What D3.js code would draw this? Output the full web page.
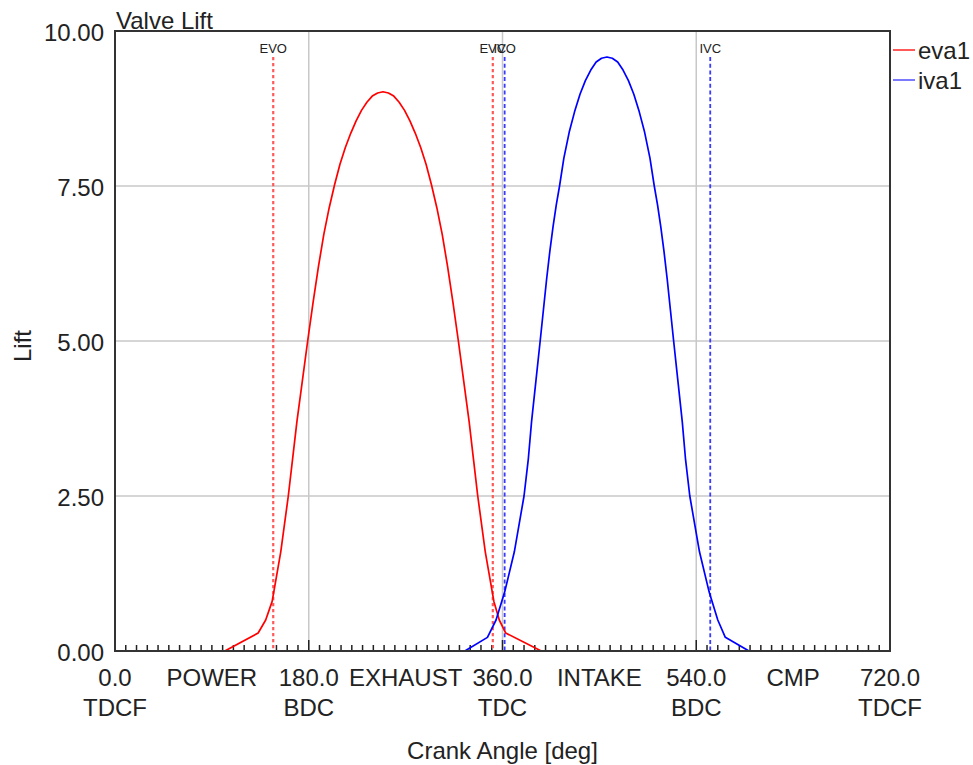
<!DOCTYPE html>
<html><head><meta charset="utf-8">
<script src="https://cdn.jsdelivr.net/npm/d3@7"></script>
<style>body{margin:0;background:#fff}text{font-family:"Liberation Sans",Arial,sans-serif;fill:#222}</style>
</head><body><svg id="c" width="973" height="765"></svg>
<script>
const title = "Valve Lift";
const xLabel = "Crank Angle [deg]";
const yLabel = "Lift";
const yTicks = [0, 2.5, 5, 7.5, 10];
const xMajor = [0, 180, 360, 540, 720];
const xMajorSub = ["TDCF", "BDC", "TDC", "BDC", "TDCF"];
const strokeNames = ["POWER", "EXHAUST", "INTAKE", "CMP"];
const strokeCenters = [90, 270, 450, 630];
const seriesNames = ["eva1", "iva1"];
const eva1 = [[0,0],[102,0],[133,0.29],[140,0.5],[146,0.8],[154,1.6],[161,2.5],[165,3.1],[169,3.7],[174,4.35],[179,5.0],[184,5.62],[189,6.2],[194,6.72],[199,7.15],[204,7.52],[209,7.85],[214,8.12],[219,8.35],[224,8.55],[229,8.72],[234,8.85],[239,8.95],[244,9.0],[249,9.02],[254,9.0],[259,8.95],[264,8.85],[269,8.72],[274,8.55],[279,8.35],[284,8.12],[289,7.85],[294,7.52],[299,7.15],[304,6.72],[309,6.2],[314,5.62],[319,5.0],[324,4.35],[329,3.7],[333,3.1],[337,2.5],[344,1.6],[352,0.8],[357,0.5],[363,0.29],[396,0],[720,0]];
const iva1 = [[0,0],[325,0],[346,0.22],[354,0.5],[362,0.95],[371,1.6],[380,2.5],[384,3.1],[387,3.7],[391,4.35],[395,5.0],[398,5.5],[401,6.0],[404,6.45],[407,6.85],[410,7.2],[413,7.5],[417,7.95],[422,8.37],[427,8.7],[432,8.98],[437,9.2],[442,9.37],[447,9.5],[452,9.56],[457,9.58],[462,9.56],[467,9.5],[472,9.37],[477,9.2],[482,8.98],[487,8.7],[492,8.37],[497,7.95],[501,7.5],[504,7.2],[507,6.85],[510,6.45],[513,6.0],[516,5.5],[519,5.0],[523,4.35],[527,3.7],[530,3.1],[534,2.5],[543,1.6],[552,0.95],[560,0.5],[567,0.22],[589,0],[720,0]];
const events = ["EVO", "EVC", "IVO", "IVC"];
const eventAngles = [147, 351, 362, 553];
const eventSeries = [0, 0, 1, 1];

const svg = d3.select("#c");
const L = 115, R = 890, T = 31, B = 651;
const x = d3.scaleLinear().domain([0, 720]).range([L, R]);
const y = d3.scaleLinear().domain([0, 10]).range([B, T]);
const lineCol = ["#ff0000", "#0000ff"];
const dashCol = ["#ff5a5a", "#3a3aff"];
const legCol = ["#ff5a5a", "#7a7aff"];
const FS = 24;

// grid
svg.append("g").selectAll("line").data(yTicks.filter(d => d > 0 && d < 10)).join("line")
  .attr("x1", L).attr("x2", R).attr("y1", d => y(d)).attr("y2", d => y(d))
  .attr("stroke", "#c8c8c8").attr("stroke-width", 1.5);
svg.append("g").selectAll("line").data(xMajor.filter(d => d > 0 && d < 720)).join("line")
  .attr("y1", T).attr("y2", B).attr("x1", d => x(d)).attr("x2", d => x(d))
  .attr("stroke", "#c8c8c8").attr("stroke-width", 1.5);

// ticks
const ticks = d3.range(0, 721, 10);
svg.append("g").selectAll("line").data(ticks).join("line")
  .attr("x1", d => x(d)).attr("x2", d => x(d))
  .attr("y1", B).attr("y2", d => B - (d % 180 === 0 ? 11 : 6))
  .attr("stroke", "#222").attr("stroke-width", 1.5);

// event lines
svg.append("g").selectAll("line").data(eventAngles).join("line")
  .attr("x1", d => x(d)).attr("x2", d => x(d)).attr("y1", 57).attr("y2", B)
  .attr("stroke", (d, i) => dashCol[eventSeries[i]])
  .attr("stroke-width", (d, i) => eventSeries[i] === 0 ? 2.2 : 1.8)
  .attr("stroke-dasharray", (d, i) => eventSeries[i] === 0 ? "3.3,2.7" : "4,2.7");
svg.append("g").selectAll("text").data(events).join("text")
  .attr("x", (d, i) => x(eventAngles[i])).attr("y", 53)
  .attr("text-anchor", "middle").attr("font-size", 13).text(d => d);

// curves
const line = d3.line().x(d => x(d[0])).y(d => y(d[1]));
[eva1, iva1].forEach((s, i) => {
  svg.append("path").datum(s).attr("d", line).attr("fill", "none")
    .attr("stroke", lineCol[i]).attr("stroke-width", 1.7).attr("stroke-linejoin", "round");
});

// frame
svg.append("rect").attr("x", L).attr("y", T).attr("width", R - L).attr("height", B - T)
  .attr("fill", "none").attr("stroke", "#333").attr("stroke-width", 2);

// y labels
svg.append("g").selectAll("text").data(yTicks).join("text")
  .attr("x", 104).attr("y", d => y(d) + 10).attr("text-anchor", "end")
  .attr("font-size", FS).text(d => d3.format(".2f")(d));
svg.append("text").attr("transform", `translate(31,${(T + B) / 2 + 5}) rotate(-90)`)
  .attr("text-anchor", "middle").attr("font-size", FS).text(yLabel);

// x labels
svg.append("g").selectAll("text").data(xMajor).join("text")
  .attr("x", d => x(d)).attr("y", 686).attr("text-anchor", "middle")
  .attr("font-size", FS).text(d => d3.format(".1f")(d));
svg.append("g").selectAll("text").data(xMajorSub).join("text")
  .attr("x", (d, i) => x(xMajor[i])).attr("y", 716).attr("text-anchor", "middle")
  .attr("font-size", FS).text(d => d);
svg.append("g").selectAll("text").data(strokeNames).join("text")
  .attr("x", (d, i) => x(strokeCenters[i])).attr("y", 686).attr("text-anchor", "middle")
  .attr("font-size", FS).text(d => d);
svg.append("text").attr("x", (L + R) / 2).attr("y", 759).attr("text-anchor", "middle")
  .attr("font-size", FS).text(xLabel);

// title
svg.append("text").attr("x", L + 1).attr("y", 29).attr("font-size", FS).text(title);

// legend
const lg = svg.append("g").selectAll("g").data(seriesNames).join("g")
  .attr("transform", (d, i) => `translate(893,${50 + i * 30})`);
lg.append("line").attr("x1", 0).attr("x2", 22).attr("stroke", (d, i) => legCol[i]).attr("stroke-width", 2);
lg.append("text").attr("x", 25).attr("y", 9).attr("font-size", FS).text(d => d);
</script></body></html>
